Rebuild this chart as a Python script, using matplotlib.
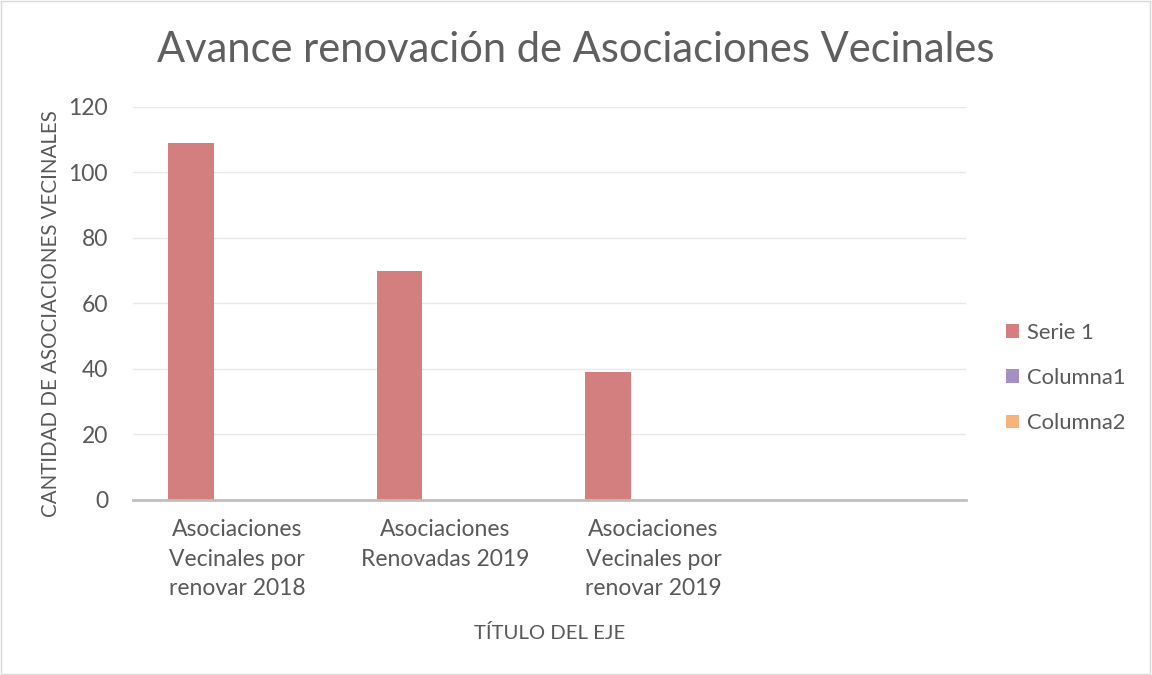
import numpy as np
import matplotlib.pyplot as plt
from matplotlib.patches import Patch, Rectangle

# datos
categorias = ["Asociaciones\nVecinales por\nrenovar 2018",
              "Asociaciones\nRenovadas 2019",
              "Asociaciones\nVecinales por\nrenovar 2019",
              ""]
serie1 = [109, 70, 39, np.nan]
columna1 = [np.nan, np.nan, np.nan, np.nan]
columna2 = [np.nan, np.nan, np.nan, np.nan]
nombres = ["Serie 1", "Columna1", "Columna2"]
colores = ["#D47F7F", "#A68FC2", "#F8B27C"]
y_ticks = [0, 20, 40, 60, 80, 100, 120]

TXT = "#595959"
plt.rcParams["font.family"] = ["Lato", "DejaVu Sans"]

fig = plt.figure(figsize=(11.52, 6.75), dpi=100)
fig.patches.append(Rectangle((0.001, 0.002), 0.997, 0.996, transform=fig.transFigure,
                             fill=False, edgecolor="#D9D9D9", linewidth=1))
ax = fig.add_axes([0.1155, 0.2593, 0.723, 0.5822])

x = np.arange(len(categorias))
w = 0.22
for i, (vals, c) in enumerate(zip([serie1, columna1, columna2], colores)):
    ax.bar(x + (i - 1) * w, vals, width=w, color=c, zorder=3)

ax.set_xlim(-0.5, 3.5)
ax.set_ylim(0, 120)
ax.set_yticks(y_ticks)
ax.set_xticks(x)
ax.set_xticklabels(categorias, fontsize=16.5, color=TXT, linespacing=1.5, va="top")
ax.tick_params(axis="y", length=0, pad=18, labelsize=16.5, labelcolor=TXT)
ax.tick_params(axis="x", length=0, pad=14)
ax.grid(axis="y", color="#E8E8E8", linewidth=1, zorder=0)
for s in ["top", "right", "left"]:
    ax.spines[s].set_visible(False)
ax.spines["bottom"].set_color("#BFBFBF")
ax.spines["bottom"].set_linewidth(2)
ax.spines["bottom"].set_zorder(4)

ax.set_ylabel("CANTIDAD DE ASOCIACIONES VECINALES", fontsize=14.8, color=TXT)
ax.yaxis.set_label_coords(-0.087, 0.475)
ax.set_xlabel("TÍTULO DEL EJE", fontsize=14.6, color=TXT)
ax.xaxis.set_label_coords(0.5, -0.315)
fig.text(0.5, 0.926, "Avance renovación de Asociaciones Vecinales", ha="center", va="center",
         fontsize=30, color="#5F5F5F")

handles = [Patch(facecolor=c, label=n) for n, c in zip(nombres, colores)]
fig.legend(handles=handles, loc="center left", bbox_to_anchor=(0.856, 0.44), frameon=False,
           fontsize=15.8, labelcolor=TXT, handlelength=0.6, handleheight=0.6,
           handletextpad=0.35, labelspacing=1.15)

fig.savefig("out.png", dpi=100)
